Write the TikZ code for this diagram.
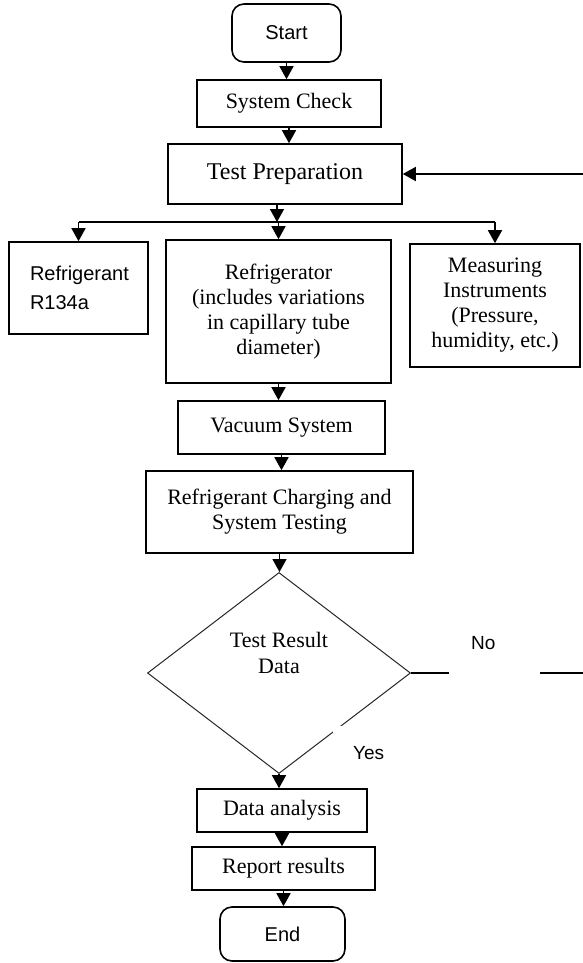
\documentclass[tikz,border=0pt]{standalone}
\usepackage{fontspec}
\setmainfont{Liberation Serif}
\setsansfont{Liberation Sans}
\usetikzlibrary{shapes.geometric,arrows.meta}

\tikzset{
	box/.style={draw, line width=1.6pt, inner sep=0pt, align=center, font=\fontsize{22}{25}\selectfont},
	terminal/.style={box, rounded corners=12pt, font=\sffamily\fontsize{20}{22}\selectfont},
	decision/.style={diamond, draw=black!85, line width=1pt, inner sep=0pt},
	arr/.style={line width=1.6pt, -{Triangle[width=14pt,length=13pt]}},
	gap/.style={fill=white, anchor=north west, align=left, text height=14pt,
		font=\sffamily\fontsize{19}{22}\selectfont}
}

\begin{document}
\begin{tikzpicture}[x=1pt, y=-1pt]
	\useasboundingbox (0,0) rectangle (582,963);

	\node[terminal, minimum width=109pt, minimum height=58pt] (start) at (286.5,33) {Start};
	\node[box, minimum width=184pt, minimum height=47pt] (check) at (289,103.5) {System Check};
	\node[box, minimum width=234pt, minimum height=60pt, font=\fontsize{24}{26}\selectfont] (prep) at (285,174) {Test Preparation};
	\coordinate (split) at (277,222);

	\node[box, font=\sffamily\fontsize{20}{29}\selectfont, align=left, text width=97pt,
		inner xsep=21pt, minimum height=92pt] (refr) at (78.5,288) {Refrigerant\\R134a};
	\node[box, minimum width=225pt, minimum height=143pt] (fridge) at (278.5,311.5)
		{Refrigerator\\(includes variations\\in capillary tube\\diameter)};
	\node[box, minimum width=170pt, minimum height=123pt] (meas) at (495,305.5)
		{Measuring\\Instruments\\(Pressure,\\humidity, etc.)};

	\node[box, minimum width=207pt, minimum height=53pt] (vacuum) at (281.5,427.5) {Vacuum System};
	\node[box, minimum width=267pt, minimum height=82pt] (charge) at (279.5,512)
		{Refrigerant Charging and\\System Testing};

	\node[decision, minimum width=263pt, minimum height=201pt,
		label={[align=center, font=\fontsize{22}{26}\selectfont, yshift=20pt]center:{Test Result\\Data}}]
		(dec) at (279,673) {};
	\coordinate (fb) at (590,673);

	\node[box, minimum width=170pt, minimum height=43pt] (anal) at (282,810.5) {Data analysis};
	\node[box, minimum width=183pt, minimum height=43pt] (report) at (283.5,868.5) {Report results};
	\node[terminal, minimum width=125pt, minimum height=54pt] (fin) at (282.5,934) {End};

	% main line
	\draw[arr] (start) -- (start |- check.north);
	\draw[arr] (check) -- (check |- prep.north);
	\draw[arr] (prep.south -| split) -- (split);
	\draw[line width=1.6pt] (split -| refr) -- (split -| meas);
	\draw[arr] (split -| refr) -- (refr);
	\draw[arr] (split -| fridge) -- (fridge);
	\draw[arr] (split -| meas) -- (meas);
	\draw[arr] (fridge) -- (fridge |- vacuum.north);
	\draw[arr] (vacuum) -- (vacuum |- charge.north);
	\draw[arr] (charge) -- (charge |- dec.north);
	\draw[arr] (dec) -- (dec |- anal.north);
	\draw[arr] (anal) -- (anal |- report.north);
	\draw[arr] (report) -- (report |- fin.north);

	% back to the preparation
	\draw[arr] (dec.east) -- (fb) |- (prep.east);

	\node[gap, text width=47pt, inner xsep=22pt, inner ysep=8pt, text depth=40pt] (no) at (449,627) {No};
	\node[gap, text width=30pt, inner xsep=20pt, inner ysep=19pt, text depth=4pt] (yes) at (333,726) {Yes};

\end{tikzpicture}
\end{document}
